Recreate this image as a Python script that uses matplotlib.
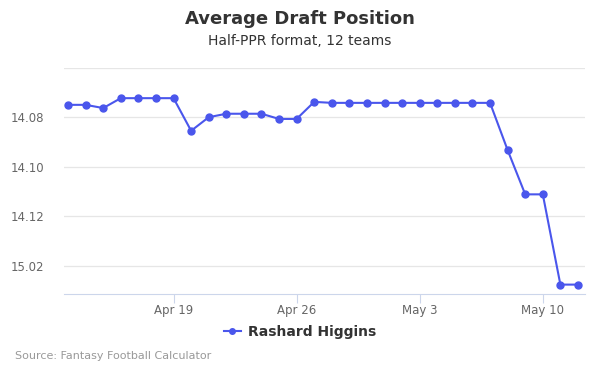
import numpy as np
import pandas as pd
import matplotlib
matplotlib.use("Agg")
import matplotlib.pyplot as plt
import matplotlib.dates as mdates
from matplotlib.ticker import FixedLocator, FuncFormatter

# daily ADP, expressed as overall pick number (12-team league)
dates = pd.date_range("2021-04-13", "2021-05-12", freq="D")
adp_pick = [163.49, 163.49, 163.62, 163.22, 163.22, 163.22, 163.22, 164.54,
            163.99, 163.85, 163.85, 163.85, 164.06, 164.06, 163.37, 163.41,
            163.41, 163.41, 163.41, 163.41, 163.41, 163.41, 163.41, 163.41,
            163.41, 165.32, 167.11, 167.11, 170.76, 170.76]
player = "Rashard Higgins"
tick_picks = [162, 164, 166, 168, 170]
xtick_dates = ["2021-04-19", "2021-04-26", "2021-05-03", "2021-05-10"]
teams = 12

line_color = "#4a56ec"


def pick_label(p, pos=None):
    # hide the top gridline label like the original
    if p < 163:
        return ""
    p = int(round(p))
    rnd = (p - 1) // teams + 1
    pk = p - (rnd - 1) * teams
    return f"{rnd}.{pk:02d}"


fig = plt.figure(figsize=(6, 3.75), dpi=100)
ax = fig.add_axes([64 / 600, (375 - 294) / 375, (585 - 64) / 600, (294 - 68) / 375])

ax.plot(dates, adp_pick, color=line_color, lw=1.5, marker="o", ms=5,
        label=player, zorder=3)

ax.set_ylim(171.14, 162)
ax.yaxis.set_major_locator(FixedLocator(tick_picks))
ax.yaxis.set_major_formatter(FuncFormatter(pick_label))
ax.grid(axis="y", color="#e6e6e6", lw=0.9)
ax.set_axisbelow(True)

x0 = mdates.date2num(dates[0]) - 0.23
x1 = mdates.date2num(dates[-1]) + 0.4
ax.set_xlim(x0, x1)
ax.set_xticks(pd.to_datetime(xtick_dates))
ax.xaxis.set_major_formatter(mdates.DateFormatter("%b %-d"))

for s in ["top", "right", "left"]:
    ax.spines[s].set_visible(False)
ax.spines["bottom"].set_color("#ccd6eb")
ax.tick_params(axis="x", colors="#ccd6eb", length=6.5, width=0.8, labelcolor="#666666",
               labelsize=8.5, pad=0.5)
ax.tick_params(axis="y", length=0, labelcolor="#666666", labelsize=8.5, pad=14)

fig.text(0.5, 1 - 19 / 375, "Average Draft Position", ha="center", va="center",
         fontsize=13, fontweight="bold", color="#333333")
fig.text(0.5, 1 - 41 / 375, "Half-PPR format, 12 teams", ha="center", va="center",
         fontsize=10, color="#333333")

leg = fig.legend(loc="center", bbox_to_anchor=(0.5, 1 - 332 / 375), frameon=False,
                 prop={"weight": "bold", "size": 10}, handlelength=1.2,
                 handletextpad=0.5, markerscale=0.8)
for t in leg.get_texts():
    t.set_color("#333333")

fig.text(15 / 600, 1 - 356 / 375, "Source: Fantasy Football Calculator", ha="left",
         va="center", fontsize=8, color="#999999")

fig.savefig("out.png", dpi=100)
